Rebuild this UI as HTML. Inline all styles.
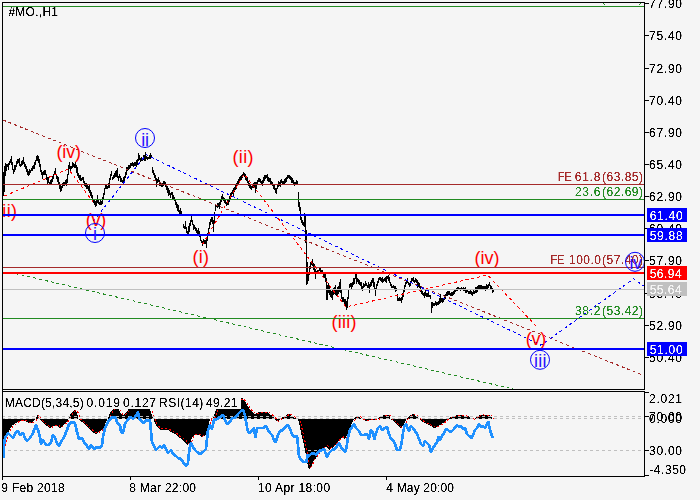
<!DOCTYPE html>
<html>
<head>
<meta charset="utf-8">
<title>#MO.,H1</title>
<style>
html,body{margin:0;padding:0;background:#f5f5f5;width:700px;height:500px;overflow:hidden}
body{position:relative;font-family:"Liberation Sans", sans-serif}
svg text{font-family:"Liberation Sans", sans-serif;white-space:pre}
</style>
</head>
<body>
<svg width="700" height="500" viewBox="0 0 700 500" style="position:absolute;left:0;top:0"><rect width="700" height="500" fill="#f5f5f5"/><defs><clipPath id="cm"><rect x="3" y="3" width="641" height="386"/></clipPath><clipPath id="ci"><rect x="3" y="392" width="641" height="84"/></clipPath><filter id="th" x="0" y="0" width="700" height="500" filterUnits="userSpaceOnUse" color-interpolation-filters="sRGB"><feComponentTransfer><feFuncA type="linear" slope="3" intercept="-0.75"/></feComponentTransfer></filter></defs><g clip-path="url(#cm)" shape-rendering="crispEdges"><path d="M3.5 172V196M4.5 166V192M5.5 163V176M6.5 164V171M7.5 164V167M8.5 163V170M9.5 161V165M10.5 159V163M11.5 156V165M12.5 162V170M13.5 169V174M14.5 165V172M15.5 165V170M16.5 161V167M17.5 159V164M18.5 159V163M19.5 158V166M20.5 164V167M21.5 161V166M22.5 160V165M23.5 157V164M24.5 162V167M25.5 164V169M26.5 166V172M27.5 169V175M28.5 171V176M29.5 169V175M30.5 170V173M31.5 168V171M32.5 166V171M33.5 165V169M34.5 162V169M35.5 160V165M36.5 156V161M37.5 155V161M38.5 156V163M39.5 159V167M40.5 164V172M41.5 170V175M42.5 172V179M43.5 171V175M44.5 170V175M45.5 170V175M46.5 174V180M47.5 177V184M48.5 177V183M49.5 182V185M50.5 180V184M51.5 179V184M52.5 176V182M53.5 174V179M54.5 171V174M55.5 168V175M56.5 174V179M57.5 176V182M58.5 177V184M59.5 182V189M60.5 185V192M61.5 186V191M62.5 183V188M63.5 182V186M64.5 182V186M65.5 180V184M66.5 179V186M67.5 174V183M68.5 165V175M69.5 162V169M70.5 166V171M71.5 166V169M72.5 162V168M73.5 163V167M74.5 164V168M75.5 162V168M76.5 165V173M77.5 167V176M78.5 173V178M79.5 175V180M80.5 175V181M81.5 178V181M82.5 177V180M83.5 177V183M84.5 181V186M85.5 183V187M86.5 183V189M87.5 185V189M88.5 186V191M89.5 185V193M90.5 190V196M91.5 192V198M92.5 195V201M93.5 199V203M94.5 200V205M95.5 201V207M96.5 199V206M97.5 195V203M98.5 199V204M99.5 202V205M100.5 200V205M101.5 201V205M102.5 197V204M103.5 193V200M104.5 188V195M105.5 185V189M106.5 185V189M107.5 186V189M108.5 183V188M109.5 178V188M110.5 174V180M111.5 171V176M112.5 177V180M113.5 175V179M114.5 173V178M115.5 171V177M116.5 170V177M117.5 168V178M118.5 176V181M119.5 174V178M120.5 176V182M121.5 178V182M122.5 180V183M123.5 177V183M124.5 176V182M125.5 172V178M126.5 167V175M127.5 167V171M128.5 165V170M129.5 165V169M130.5 163V168M131.5 163V166M132.5 162V166M133.5 163V167M134.5 162V166M135.5 162V166M136.5 160V167M137.5 159V165M138.5 153V161M139.5 155V160M140.5 158V162M141.5 157V161M142.5 158V161M143.5 155V160M144.5 155V161M145.5 152V161M146.5 156V159M147.5 157V160M148.5 157V159M149.5 155V159M150.5 153V159M151.5 155V157M152.5 167V173M153.5 170V175M154.5 173V178M155.5 175V181M156.5 178V187M157.5 179V183M158.5 177V182M159.5 180V186M160.5 182V186M161.5 185V187M162.5 183V187M163.5 181V186M164.5 181V185M165.5 182V187M166.5 184V190M167.5 186V193M168.5 188V196M169.5 190V195M170.5 193V198M171.5 192V195M172.5 192V199M173.5 195V199M174.5 197V201M175.5 199V205M176.5 202V208M177.5 204V211M178.5 205V212M179.5 210V215M180.5 208V214M181.5 211V215M183.5 224V228M184.5 226V229M185.5 221V229M186.5 227V233M187.5 231V234M188.5 226V236M189.5 223V232M190.5 220V226M191.5 214V222M192.5 220V225M193.5 224V230M194.5 225V229M195.5 227V231M196.5 228V233M197.5 230V234M198.5 228V235M199.5 231V237M200.5 234V241M201.5 240V243M202.5 241V246M203.5 239V243M204.5 240V244M205.5 240V244M206.5 238V248M207.5 233V241M208.5 228V235M209.5 222V229M210.5 219V225M211.5 217V222M212.5 217V224M213.5 220V232M214.5 212V224M215.5 205V211M216.5 205V207M217.5 203V208M218.5 203V207M219.5 202V209M220.5 200V205M221.5 196V202M222.5 194V200M223.5 197V201M224.5 198V203M225.5 200V204M226.5 202V206M227.5 200V205M228.5 199V205M229.5 196V202M230.5 193V199M231.5 192V197M232.5 190V194M233.5 188V196M234.5 187V192M235.5 184V190M236.5 183V189M237.5 181V185M238.5 179V184M239.5 177V181M240.5 176V180M241.5 175V180M242.5 174V178M243.5 172V175M244.5 173V177M245.5 174V180M246.5 177V181M247.5 177V183M248.5 181V186M249.5 183V188M250.5 185V189M251.5 186V190M252.5 184V188M253.5 183V188M254.5 182V187M255.5 182V193M256.5 182V189M257.5 180V185M258.5 178V182M259.5 178V182M260.5 179V183M261.5 181V185M262.5 180V186M263.5 177V183M264.5 175V181M265.5 175V179M266.5 175V178M267.5 174V181M268.5 177V182M269.5 178V182M270.5 178V184M271.5 181V185M272.5 182V186M273.5 184V189M274.5 185V190M275.5 188V193M276.5 188V194M277.5 184V189M278.5 181V187M279.5 182V186M280.5 180V187M281.5 179V183M282.5 181V184M283.5 181V184M284.5 179V185M285.5 178V183M286.5 177V182M287.5 175V179M288.5 175V178M289.5 175V179M290.5 176V180M291.5 177V183M292.5 178V183M293.5 180V184M294.5 182V186M295.5 182V185M296.5 180V185M297.5 181V184M298.5 192V207M299.5 202V211M300.5 207V220M301.5 217V223M302.5 220V225M303.5 222V226M304.5 213V227M305.5 215V243M306.5 230V285M307.5 262V284M308.5 272V281M309.5 266V275M310.5 262V269M311.5 261V265M312.5 259V266M313.5 263V270M314.5 264V274M315.5 269V279M316.5 271V274M317.5 270V274M318.5 270V273M319.5 268V271M320.5 268V272M321.5 270V273M322.5 270V274M323.5 273V277M324.5 273V278M325.5 274V282M326.5 278V300M327.5 285V300M328.5 283V293M329.5 286V295M330.5 289V297M331.5 291V298M332.5 290V300M333.5 288V295M334.5 287V294M335.5 285V295M336.5 289V296M337.5 287V296M338.5 286V294M339.5 282V292M340.5 279V293M341.5 289V299M342.5 297V302M343.5 297V302M344.5 299V306M345.5 299V306M346.5 301V310M347.5 297V308M348.5 289V299M349.5 284V288M350.5 283V287M351.5 283V289M352.5 282V287M353.5 278V285M354.5 278V284M355.5 274V279M356.5 274V284M357.5 278V282M358.5 279V284M359.5 280V285M360.5 282V286M361.5 282V289M362.5 286V291M363.5 283V288M364.5 284V287M365.5 281V286M366.5 283V286M367.5 285V288M368.5 282V288M369.5 284V293M370.5 282V287M371.5 280V286M372.5 278V283M373.5 278V287M374.5 282V289M375.5 288V296M376.5 284V289M377.5 281V286M378.5 278V283M379.5 277V280M380.5 277V281M381.5 278V282M382.5 277V283M383.5 279V282M384.5 278V281M385.5 277V282M386.5 276V283M387.5 276V279M388.5 275V281M389.5 277V283M390.5 282V286M391.5 284V288M392.5 286V288M393.5 285V288M394.5 286V289M395.5 286V292M396.5 288V291M397.5 294V301M398.5 298V301M399.5 297V301M400.5 298V301M401.5 297V303M402.5 293V300M403.5 290V297M404.5 285V292M405.5 282V287M406.5 280V284M407.5 278V283M408.5 282V285M409.5 283V287M410.5 281V286M411.5 278V282M412.5 278V281M413.5 277V282M414.5 280V283M415.5 278V282M416.5 279V283M417.5 280V288M418.5 282V287M419.5 283V288M420.5 286V292M421.5 290V294M422.5 291V295M423.5 293V296M424.5 292V298M425.5 290V296M426.5 293V297M427.5 293V297M428.5 292V297M429.5 295V297M430.5 295V299M431.5 302V313M432.5 302V308M433.5 303V306M434.5 303V306M435.5 301V305M436.5 302V306M437.5 302V305M438.5 301V305M439.5 298V304M440.5 294V303M441.5 298V302M442.5 298V303M443.5 298V302M444.5 295V300M445.5 294V299M446.5 292V296M447.5 291V296M448.5 291V295M449.5 291V295M450.5 293V296M451.5 292V296M452.5 292V296M453.5 291V295M454.5 290V294M455.5 289V292M456.5 288V291M457.5 287V291M458.5 287V289M459.5 288V290M460.5 288V291M461.5 287V290M462.5 288V290M463.5 287V291M464.5 288V291M465.5 287V293M466.5 289V293M467.5 290V292M468.5 291V294M469.5 291V294M470.5 290V294M471.5 291V295M472.5 292V296M473.5 290V294M474.5 291V294M475.5 287V293M476.5 287V293M477.5 286V292M478.5 285V290M479.5 285V289M480.5 285V289M481.5 285V289M482.5 286V289M483.5 286V289M484.5 286V290M485.5 286V291M486.5 284V289M487.5 285V289M488.5 284V288M489.5 282V286M490.5 285V289M491.5 286V290M492.5 288V293M493.5 289V292" stroke="#000" stroke-width="1" fill="none"/><path d="M3 120L644 375.6" stroke="#a52a2a" stroke-width="1" stroke-dasharray="3 3" fill="none"/><path d="M15.6 273.6L517.3 390" stroke="#228b22" stroke-width="1" stroke-dasharray="3 3" fill="none"/><path d="M603 3h1v1h1v1h-1v-1h-1zM641 3h-1v1h-1v1h1v-1h1z" fill="#228b22"/><path d="M4.5 196L68.5 169L94 203" stroke="#ff0000" stroke-width="1" stroke-dasharray="3 3" fill="none"/><path d="M202.5 244.5L244 174L346 307L487.5 275L538 328" stroke="#ff0000" stroke-width="1" stroke-dasharray="3 3" fill="none"/><path d="M93.5 221L146 154.7L541 345.2L633.6 278.8L650 290.4" stroke="#0000ff" stroke-width="1" stroke-dasharray="3 3" fill="none"/></g><g clip-path="url(#cm)"><text x="-4.00" y="217.3" font-size="18" fill="#ff0000" letter-spacing="0.333" >(ii)</text><text x="56.50" y="158.4" font-size="18" fill="#ff0000" letter-spacing="-0.167" >(iv)</text><text x="85.80" y="226.3" font-size="18" fill="#ff0000" letter-spacing="-0.300" >(v)</text><text x="192.60" y="263.3" font-size="18" fill="#ff0000" letter-spacing="0.200" >(i)</text><text x="232.50" y="163.3" font-size="18" fill="#ff0000" letter-spacing="0.333" >(ii)</text><text x="331.50" y="328.3" font-size="18" fill="#ff0000" letter-spacing="0.250" >(iii)</text><text x="474.60" y="264.3" font-size="18" fill="#ff0000" letter-spacing="-0.067" >(iv)</text><text x="525.80" y="344.6" font-size="18" fill="#ff0000" letter-spacing="-0.300" >(v)</text></g><g shape-rendering="crispEdges"><rect x="3" y="6" width="641" height="1" fill="#228b22"/><rect x="3" y="184" width="641" height="1" fill="#a52a2a"/><rect x="3" y="199" width="641" height="1" fill="#228b22"/><rect x="3" y="214" width="641" height="2" fill="#0000ff"/><rect x="3" y="234" width="641" height="2" fill="#0000ff"/><rect x="3" y="267" width="641" height="1" fill="#a52a2a"/><rect x="3" y="272" width="641" height="2" fill="#ff0000"/><rect x="3" y="289" width="641" height="1" fill="#c0c0c0"/><rect x="3" y="318" width="641" height="1" fill="#228b22"/><rect x="3" y="348" width="641" height="2" fill="#0000ff"/></g><g filter="url(#th)"><text transform="translate(557.69,181) scale(0.914,1)" font-size="12" fill="#a52a2a" >FE</text><text x="574.80" y="181" font-size="12" fill="#a52a2a" letter-spacing="0.733" >61.8</text><text x="602.00" y="181" font-size="12" fill="#a52a2a" letter-spacing="0.500" >(63.85)</text><text x="575.00" y="196" font-size="12" fill="#228b22" letter-spacing="0.667" >23.6</text><text x="602.00" y="196" font-size="12" fill="#228b22" letter-spacing="0.500" >(62.69)</text><text transform="translate(550.39,264) scale(0.914,1)" font-size="12" fill="#a52a2a" >FE</text><text x="569.00" y="264" font-size="12" fill="#a52a2a" letter-spacing="0.500" >100.0</text><text x="602.00" y="264" font-size="12" fill="#a52a2a" letter-spacing="0.500" >(57.40)</text><text x="575.00" y="315" font-size="12" fill="#228b22" letter-spacing="0.667" >38.2</text><text x="602.00" y="315" font-size="12" fill="#228b22" letter-spacing="0.500" >(53.42)</text></g><g clip-path="url(#cm)"><circle cx="145" cy="138" r="9.5" fill="none" stroke="#0000ff" stroke-width="1"/><text x="141.20" y="145.6" font-size="18" fill="#2a10ff" letter-spacing="-0.200" >ii</text><circle cx="95" cy="233" r="9.5" fill="none" stroke="#0000ff" stroke-width="1"/><text x="93.00" y="239.6" font-size="18" fill="#2a10ff" letter-spacing="0.000" >i</text><circle cx="540" cy="359.8" r="9.5" fill="none" stroke="#0000ff" stroke-width="1"/><text x="534.00" y="367" font-size="18" fill="#2a10ff" letter-spacing="0.250" >iii</text><circle cx="635" cy="261.8" r="9.5" fill="none" stroke="#0000ff" stroke-width="1"/><text x="629.40" y="269" font-size="18" fill="#2a10ff" letter-spacing="-0.400" >iv</text></g><g clip-path="url(#ci)"><g shape-rendering="crispEdges"><path d="M3 418.5L3 447L4.3 446.4L5.7 439.3L7.9 433.6L10 428.6L12.1 425.7L14.3 424.3L17.1 422.1L20 420.7L23.6 420L26.4 422L30.7 423.4L34.3 420.7L36 418.5L37.4 415.2L39 418.5L40 419.2L43 423L47 426L50 428L53 426L56 425L60 428L62 426L65 423L68 420L68.6 418.5L69 417L72 412L74.4 410L77 413L78.4 418.5L79 419.2L82 422L86 426L90 430L94 433L96 434L99 432L102 430L104 427L106 422L108 418.5L109 415L112 410L115 407L118 408L121 414L123 415L125 413L128 410L131 405L140 402L147 404L150 410L152 415L153.6 418.5L154 421L155.5 424.2L157.7 427.2L160 429.5L164.5 429.5L168.2 430.2L172 432.5L175 434L178 437L181.7 439.2L184.7 442.2L187.7 445.2L190 443L191.8 438.5L193.7 435.5L196 434.7L199 435L201 437L205 436L207 432L208.4 425L210 419L212 418.5L214 417L215 412L218 407L224 401L232 399L242.2 398L245.2 401.7L247.5 405.5L249.7 409.2L252.7 412.4L255 414L258 412.6L261 412L264 412.6L267 412L269.2 413.4L271.5 415.4L273.7 417.5L274.5 418.5L275.2 419.7L276.7 421.7L279 420.5L280.5 418.5L282 417.5L285 416L288.7 413.7L291 415.2L294 417.2L296 418.5L297 418.5L298 419.2L300 427L302 437L304 445L306 455L307.6 465L309 470L311 467L313 462L316 458L319 453L322 449L326 447L329 450L332 448L336 444L339 440L342 438L345 439L348 433L350 428L352 423L354 419L354.5 418.5L355 417L359 416.6L361 418.5L362 419.2L366 421L370 420L372 419.4L375 420L378 419L378.5 418.5L379 417L384 415L388 415L390 417L390.5 418.5L391 419.2L394 421.5L397 425L400 428L402 427L404 424L406 420L407 418.5L408 417L411 415L413 414L416 416L419 418.5L420 419.4L423 422L427 424L431 426L434 428L437 427L440 425L443 423L446 420L448 418.8L449 418.5L450 417.4L454 416.6L457 415L460 414.6L463 415.4L466 416L469 416.6L472 418.5L473 419.4L475 419.4L475.5 418.5L476 417L479 415.4L482 414.6L485 415.4L488 415L491 416L492.4 418.5L492.4 418.5Z" fill="#000"/><path d="M4.6 445.6L5.9 445.0L7.300000000000001 438.3L9.5 432.8L11.6 428.1L13.7 425.3L15.9 424.0L18.700000000000003 421.9L21.6 420.6L25.200000000000003 419.9L28.0 421.8L32.3 423.2L35.9 420.6L37.6 418.5L39.0 415.4L40.6 418.5L41.6 419.2L44.6 422.8L48.6 425.6L51.6 427.5L54.6 425.6L57.6 424.7L61.6 427.5L63.6 425.6L66.6 422.8L69.6 419.9L70.19999999999999 418.5L70.6 417.1L73.6 412.3L76.0 410.4L78.6 413.3L80.0 418.5L80.6 419.2L83.6 421.8L87.6 425.6L91.6 429.4L95.6 432.3L97.6 433.2L100.6 431.3L103.6 429.4L105.6 426.6L107.6 421.8L109.6 418.5L110.6 415.2L113.6 410.4L116.6 407.6L119.6 408.5L122.6 414.2L124.6 415.2L126.6 413.3L129.6 410.4L132.6 405.7L141.6 402.8L148.6 404.7L151.6 410.4L153.6 415.2L155.2 418.5L155.6 420.9L157.1 423.9L159.29999999999998 426.8L161.6 428.9L166.1 428.9L169.79999999999998 429.6L173.6 431.8L176.6 433.2L179.6 436.1L183.29999999999998 438.2L186.29999999999998 441.0L189.29999999999998 443.9L191.6 441.8L193.4 437.5L195.29999999999998 434.6L197.6 433.9L200.6 434.2L202.6 436.1L206.6 435.1L208.6 431.3L210.0 424.7L211.6 419.0L213.6 418.5L215.6 417.1L216.6 412.3L219.6 407.6L225.6 401.9L233.6 400.0L243.79999999999998 399.0L246.79999999999998 402.5L249.1 406.1L251.29999999999998 409.7L254.29999999999998 412.7L256.6 414.2L259.6 412.9L262.6 412.3L265.6 412.9L268.6 412.3L270.8 413.7L273.1 415.6L275.3 417.6L276.1 418.5L276.8 419.6L278.3 421.5L280.6 420.4L282.1 418.5L283.6 417.6L286.6 416.1L290.3 413.9L292.6 415.4L295.6 417.3L297.6 418.5L298.6 418.5L299.6 419.2L301.6 426.6L303.6 436.1L305.6 443.7L307.6 453.2L309.20000000000005 462.7L310.6 467.4L312.6 464.6L314.6 459.8L317.6 456.0L320.6 451.3L323.6 447.5L327.6 445.6L330.6 448.4L333.6 446.5L337.6 442.7L340.6 438.9L343.6 437.0L346.6 438.0L349.6 432.3L351.6 427.5L353.6 422.8L355.6 419.0L356.1 418.5L356.6 417.1L360.6 416.7L362.6 418.5L363.6 419.2L367.6 420.9L371.6 419.9L373.6 419.4L376.6 419.9L379.6 419.0L380.1 418.5L380.6 417.1L385.6 415.2L389.6 415.2L391.6 417.1L392.1 418.5L392.6 419.2L395.6 421.4L398.6 424.7L401.6 427.5L403.6 426.6L405.6 423.7L407.6 419.9L408.6 418.5L409.6 417.1L412.6 415.2L414.6 414.2L417.6 416.1L420.6 418.5L421.6 419.4L424.6 421.8L428.6 423.7L432.6 425.6L435.6 427.5L438.6 426.6L441.6 424.7L444.6 422.8L447.6 419.9L449.6 418.8L450.6 418.5L451.6 417.5L455.6 416.7L458.6 415.2L461.6 414.8L464.6 415.6L467.6 416.1L470.6 416.7L473.6 418.5L474.6 419.4L476.6 419.4L477.1 418.5L477.6 417.1L480.6 415.6L483.6 414.8L486.6 415.6L489.6 415.2L492.6 416.1L494.0 418.5" stroke="#ff0000" stroke-width="1" stroke-dasharray="2 2" fill="none"/><path d="M3 416.5H644M3 418.5H644M3 450.5H644" stroke="#c0c0c0" stroke-width="1" stroke-dasharray="3 3" stroke-dashoffset="1" fill="none"/></g><path d="M3.6 458L4 445L5 438L8 433L11 436L13 438L16 432L18 431L20 435L23 433L25 438L27 441L30 438L33 433L36 425L38 430L40 437L41 444L43 440L46 445L49 445L51 442L53 435L55 438L57 443L59 446L61 442L64 437L67 430L69 424L72 422L75 423L77 432L79 439L82 438L84 442L87 446L89 449L91 445L94 449L97 447L100 448L102 445L103 437L105 428L108 422L111 418L115 417L118 424L120 425L121 432L123 433L125 424L128 419L131 417L133 419L135 417L138 412L139 418L141 421L144 423L146 420L149 421L150 420L151 431L152 442L154 446L156 450L158 448L160 446L162 448L164 445L166 449L168 453L171 450L173 454L176 456L178 458L181 459L183 462L186 466L188 463L189 453L190 446L191 443L193 447L195 450L197 452L200 454L203 452L206 449L207 439L208 430L210 425L212 429L214 420L217 419L220 417L223 415L225 420L227 424L230 422L232 418L235 418L238 414L241 411L243 410L245 415L246.4 424L248 432L250 433L252 430L254 428L255.4 437L257 428L260 428L263 428L266 426L268 430L270 433L272 435L274 440L275.6 442L278 435L280 431L283 430L285 427L288 425L290 429L292 434L294 437L297 436L298 445L299 456L301 460L304 462L306.4 462L307.6 455L309 456L311 454L314 453L316 455L319 451L322 450L324 449L326 454L327 457L329 453L332 450L335 449L337 446L339 443L341 447L343 450L345 452L346.6 447L348 437L350 430L352 427L354 424L356 428L359 431L361 435L364 435L367 434L369 439L371 430L373 433L374.4 439L376 433L378 428L380 426L382 430L385 428L387 427L389 434L391 439L393 440L395 444L397 450L400 450L401.6 443L403 433L404.4 426L406 424L407.6 428L409 431L411 426L413 428L415 431L417 434L419 439L421 444L423 446L425 441L427 443L429 445L431 452L433 448L435 445L437 442L438.4 437L440 440L442 436L444 433L446 429L448 430L450 432L452 431L454 429L457 425L459 427L461 426L463 429L465 428L467 434L469 436L471.6 438L473 435L475 430L477 428L479 424L481 427L483 426L485 428L487 424L488.4 422L490 430L491.6 435L493 438" stroke="#1e90ff" stroke-width="2.7" fill="none" stroke-linejoin="round" shape-rendering="crispEdges"/><rect x="3" y="392" width="238" height="17" fill="#f5f5f5"/></g><g filter="url(#th)"><text x="4.80" y="407" font-size="12" fill="#000" letter-spacing="0.200" >MACD(5,34,5)</text><text x="86.60" y="407" font-size="12" fill="#000" letter-spacing="0.800" >0.019</text><text x="123.00" y="407" font-size="12" fill="#000" letter-spacing="0.750" >0.127</text><text x="159.00" y="407" font-size="12" fill="#000" letter-spacing="0.500" >RSI(14)</text><text x="206.00" y="407" font-size="12" fill="#000" letter-spacing="0.375" >49.21</text><text x="8.40" y="16" font-size="12" fill="#000" letter-spacing="0.267" >#MO.,H1</text></g><g shape-rendering="crispEdges" fill="#000"><rect x="2" y="2" width="643" height="1"/><rect x="2" y="2" width="1" height="475"/><rect x="644" y="2" width="1" height="388"/><rect x="644" y="391" width="1" height="86"/><rect x="2" y="389" width="643" height="1"/><rect x="2" y="391" width="643" height="1"/><rect x="2" y="476" width="643" height="1"/><rect x="645" y="3" width="4" height="1"/><rect x="645" y="35" width="4" height="1"/><rect x="645" y="68" width="4" height="1"/><rect x="645" y="100" width="4" height="1"/><rect x="645" y="132" width="4" height="1"/><rect x="645" y="164" width="4" height="1"/><rect x="645" y="196" width="4" height="1"/><rect x="645" y="228" width="4" height="1"/><rect x="645" y="260" width="4" height="1"/><rect x="645" y="293" width="4" height="1"/><rect x="645" y="325" width="4" height="1"/><rect x="645" y="357" width="4" height="1"/><rect x="645" y="392" width="4" height="1"/><rect x="645" y="416" width="4" height="1"/><rect x="645" y="450" width="4" height="1"/><rect x="645" y="475" width="4" height="1"/><rect x="2" y="477" width="1" height="3"/><rect x="130" y="477" width="1" height="3"/><rect x="258" y="477" width="1" height="3"/><rect x="386" y="477" width="1" height="3"/></g><g filter="url(#th)"><text x="649.00" y="8" font-size="12" fill="#000" letter-spacing="0.750" >77.90</text><text x="649.00" y="40" font-size="12" fill="#000" letter-spacing="0.750" >75.40</text><text x="649.00" y="73" font-size="12" fill="#000" letter-spacing="0.750" >72.90</text><text x="649.00" y="105" font-size="12" fill="#000" letter-spacing="0.750" >70.40</text><text x="649.00" y="137" font-size="12" fill="#000" letter-spacing="0.750" >67.90</text><text x="649.00" y="169" font-size="12" fill="#000" letter-spacing="0.750" >65.40</text><text x="649.00" y="201" font-size="12" fill="#000" letter-spacing="0.750" >62.90</text><text x="649.00" y="233" font-size="12" fill="#000" letter-spacing="0.750" >60.40</text><text x="649.00" y="265" font-size="12" fill="#000" letter-spacing="0.750" >57.90</text><text x="649.00" y="298" font-size="12" fill="#000" letter-spacing="0.750" >55.40</text><text x="649.00" y="330" font-size="12" fill="#000" letter-spacing="0.750" >52.90</text><text x="649.00" y="362" font-size="12" fill="#000" letter-spacing="0.750" >50.40</text><text x="649.00" y="403" font-size="12" fill="#000" letter-spacing="0.750" >2.021</text><text x="649.00" y="421" font-size="12" fill="#000" letter-spacing="0.750" >70.00</text><text x="649.00" y="423" font-size="12" fill="#000" letter-spacing="0.750" >0.000</text><text x="649.00" y="455" font-size="12" fill="#000" letter-spacing="0.750" >30.00</text><text x="649.30" y="474" font-size="12" fill="#000" letter-spacing="0.540" >-4.350</text></g><rect x="647" y="208" width="40" height="14" fill="#0000ff" shape-rendering="crispEdges"/><g filter="url(#th)"><text x="649.70" y="220" font-size="12" fill="#f5f5f5" letter-spacing="0.750" >61.40</text></g><rect x="647" y="228" width="40" height="14" fill="#0000ff" shape-rendering="crispEdges"/><g filter="url(#th)"><text x="649.70" y="240" font-size="12" fill="#f5f5f5" letter-spacing="0.750" >59.88</text></g><rect x="647" y="266" width="40" height="14" fill="#ff0000" shape-rendering="crispEdges"/><g filter="url(#th)"><text x="649.70" y="278" font-size="12" fill="#f5f5f5" letter-spacing="0.500" >56.94</text></g><rect x="647" y="282" width="40" height="14" fill="#c0c0c0" shape-rendering="crispEdges"/><g filter="url(#th)"><text x="649.70" y="294" font-size="12" fill="#f5f5f5" letter-spacing="0.500" >55.64</text></g><rect x="647" y="342" width="40" height="14" fill="#0000ff" shape-rendering="crispEdges"/><g filter="url(#th)"><text x="649.70" y="354" font-size="12" fill="#f5f5f5" letter-spacing="0.750" >51.00</text></g><g filter="url(#th)"><text x="1.30" y="492" font-size="12" fill="#000" letter-spacing="0.300" >9 Feb 2018</text><text x="129.30" y="492" font-size="12" fill="#000" letter-spacing="0.270" >8 Mar 22:00</text><text x="258.00" y="492" font-size="12" fill="#000" letter-spacing="0.364" >10 Apr 18:00</text><text x="386.30" y="492" font-size="12" fill="#000" letter-spacing="0.170" >4 May 20:00</text></g></svg>
</body>
</html>
